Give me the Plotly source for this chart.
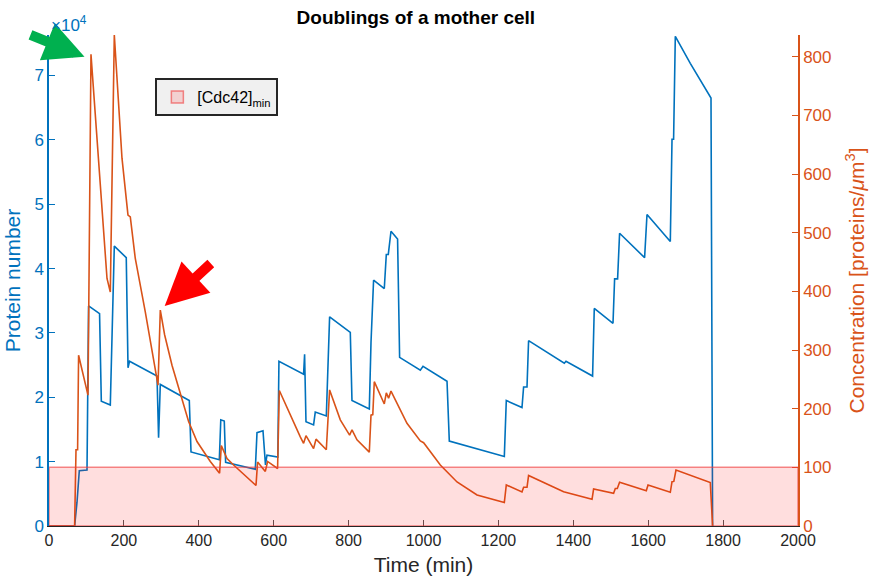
import plotly.graph_objects as go

# Cdc42 protein number in the mother cell (left axis)
time_number = [0, 68.4, 74.8, 80.9, 101.5, 105.7, 135, 139.7, 163.7, 174.4, 206.3, 211, 215,
               288.4, 292.6, 297.2, 374.6, 379.2, 454.8, 458.7, 468, 471.6, 550.9, 555.4, 571.4,
               578, 582, 611, 614, 679.8, 682.5, 686.2, 706.5, 711, 740.5, 749.3, 804.5, 809,
               855.3, 859.8, 866.7, 895.3, 900.7, 906, 913.2, 930.8, 936.2, 991.5, 998.7, 1062.8,
               1068.9, 1215.8, 1221.1, 1263, 1267.3, 1276.4, 1280.6, 1376, 1380.5, 1451.5, 1456,
               1506, 1510.3, 1518.3, 1523.6, 1590.4, 1596.8, 1659, 1663.6, 1667.8, 1672.4, 1712.4,
               1767.7, 1772]
protein_number = [0, 0, 3700, 8600, 8700, 34200, 33000, 19400, 18800, 43500, 41700, 24600, 25600,
                  23300, 13700, 22000, 19500, 11500, 10300, 16500, 16300, 9900, 8800, 14500, 14800,
                  9500, 11000, 10700, 25600, 23600, 26700, 16200, 15700, 17700, 17100, 32500, 30100, 19500,
                  18200, 28500, 38200, 36900, 42200, 42200, 45800, 44600, 26200, 24200, 24800, 22500,
                  13200, 10800, 19500, 18400, 21600, 21600, 28800, 25300, 25600, 23300, 33800,
                  31500, 38400, 38400, 45500, 41700, 48400, 44200, 60100, 60100, 76100, 71900,
                  66500, 0]

# Cdc42 concentration (right axis)
time_conc = [0, 68.4, 72.1, 76.4, 79.0, 104.1, 112.1, 154.9, 163.7, 174.4, 194.9, 210.9, 217.1,
             230.4, 257.1, 291.1, 297.2, 308.7, 328.4, 355.1, 372.8, 395.2, 408.5, 430.7, 455.5,
             460.1, 475.3, 492.9, 552.7, 557.0, 577.6, 583.7, 610.4, 615, 671, 679.8, 686.2, 706.5,
             713, 740.5, 749.3, 777.8, 802.7, 809.1, 822.4, 855.3, 859.8, 864.6, 868.6, 895.3,
             900.7, 906.8, 913.2, 955.9, 991.5, 1000.3, 1044.9, 1089.5, 1142.9, 1215.8, 1221.1,
             1263, 1267.3, 1276.4, 1280.6, 1374.1, 1450, 1454.2, 1507.6, 1512.2, 1517.5, 1523.6,
             1594.9, 1599.5, 1659, 1663.6, 1668.4, 1674.2, 1765.8, 1772]
concentration = [0, 0, 130, 130, 291, 223, 804, 422, 399, 837, 627, 530, 527,
                 456, 365, 240, 368, 326, 274, 218, 178, 144, 132, 110, 90,
                 137, 115, 104, 69, 109, 93, 110, 98, 231, 152, 141, 154, 132,
                 148, 130, 232, 181, 155, 164, 147, 126, 189, 190, 246, 208,
                 227, 218, 230, 175, 145, 142, 104, 75, 53, 40, 70,
                 58, 66, 66, 86, 58.5, 45.5, 63, 55.7, 64, 64, 74.5,
                 60, 70, 57.5, 75.5, 76, 95.5, 74, 0]

cdc42_min = 100          # threshold concentration
time_range = [0, 2000]
number_range = [0, 76300]
conc_range = [0, 837]

x_ticks = list(range(0, 2001, 200))
number_ticks = list(range(0, 70001, 10000))
number_labels = [str(v // 10000) for v in number_ticks]
conc_ticks = list(range(0, 801, 100))

BLUE = "#0072BD"
ORANGE = "#D95319"
DARK = "#262626"
FONT = "Liberation Sans, Arial, sans-serif"

fig = go.Figure()
fig.add_trace(go.Scatter(x=time_number, y=protein_number, mode="lines",
                         line=dict(color=BLUE, width=1.6), yaxis="y", showlegend=False))
fig.add_trace(go.Scatter(x=time_conc, y=concentration, mode="lines",
                         line=dict(color=ORANGE, width=1.6), yaxis="y2", showlegend=False))

# translucent band below the minimum concentration, drawn over the curves
fig.add_shape(type="rect", xref="x", yref="y2", x0=time_range[0], x1=time_range[1],
              y0=0, y1=cdc42_min, layer="above",
              fillcolor="rgba(255,0,0,0.13)", line=dict(color="rgba(240,60,60,0.6)", width=1.5),
              showlegend=True, name="[Cdc42]<sub>min</sub>")

# arrows marking the two concentration peaks
peak1 = concentration.index(804)
peak2 = concentration.index(368)
fig.add_annotation(x=time_conc[peak1], y=concentration[peak1], xref="x", yref="y2",
                   ax=-62, ay=-25, yshift=-5, showarrow=True, arrowhead=2, arrowsize=0.8,
                   arrowwidth=10, arrowcolor="#00B04F", standoff=7, text="")
fig.add_annotation(x=time_conc[peak2], y=concentration[peak2], xref="x", yref="y2",
                   ax=52, ay=-48, showarrow=True, arrowhead=2, arrowsize=0.85,
                   arrowwidth=10, arrowcolor="#FF0000", standoff=6, text="")

# exponent label of the left axis
fig.add_annotation(x=0, y=1, xref="paper", yref="paper", xanchor="left", yanchor="bottom",
                   xshift=0, yshift=-2, showarrow=False, text="×10<sup>4</sup>",
                   font=dict(color=BLUE, size=17, family=FONT))

fig.update_layout(
    width=870, height=584,
    margin=dict(l=49, r=72, t=35, b=58),
    paper_bgcolor="white", plot_bgcolor="white",
    font=dict(family=FONT, size=15, color=DARK),
    title=dict(text="<b>Doublings of a mother cell</b>", x=0.478, xanchor="center",
               y=0.971, yanchor="middle", yref="container",
               font=dict(size=19, color="black", family=FONT)),
    xaxis=dict(range=time_range, tickvals=x_ticks, ticks="inside", ticklen=6,
               tickcolor="#555555", showline=True, linecolor=DARK, linewidth=1,
               showgrid=False, zeroline=False, tickfont=dict(size=16, color=DARK),
               automargin=False,
               title=dict(text="Time (min)", font=dict(size=21, color=DARK), standoff=9)),
    yaxis=dict(range=number_range, tickvals=number_ticks, ticktext=number_labels,
               ticks="inside", ticklen=6, tickcolor=BLUE, showline=True, linecolor=BLUE,
               linewidth=1.5, showgrid=False, zeroline=False, automargin=False,
               tickfont=dict(size=17, color=BLUE),
               title=dict(text="Protein number", font=dict(size=21, color=BLUE), standoff=8)),
    yaxis2=dict(range=conc_range, tickvals=conc_ticks, overlaying="y", side="right",
                ticks="inside", ticklen=6, tickcolor=ORANGE, showline=True, linecolor=ORANGE,
                linewidth=1.5, showgrid=False, zeroline=False, automargin=False,
                tickfont=dict(size=17, color=ORANGE),
                title=dict(text="Concentration [proteins/<i>μ</i>m<sup>3</sup>]",
                           font=dict(size=21, color=ORANGE), standoff=19)),
    legend=dict(x=0.142, y=0.912, xanchor="left", yanchor="top",
                bgcolor="#F0F0F0", bordercolor=DARK, borderwidth=2,
                font=dict(size=16, color="black", family=FONT)),
)

fig.write_html("out.html")
